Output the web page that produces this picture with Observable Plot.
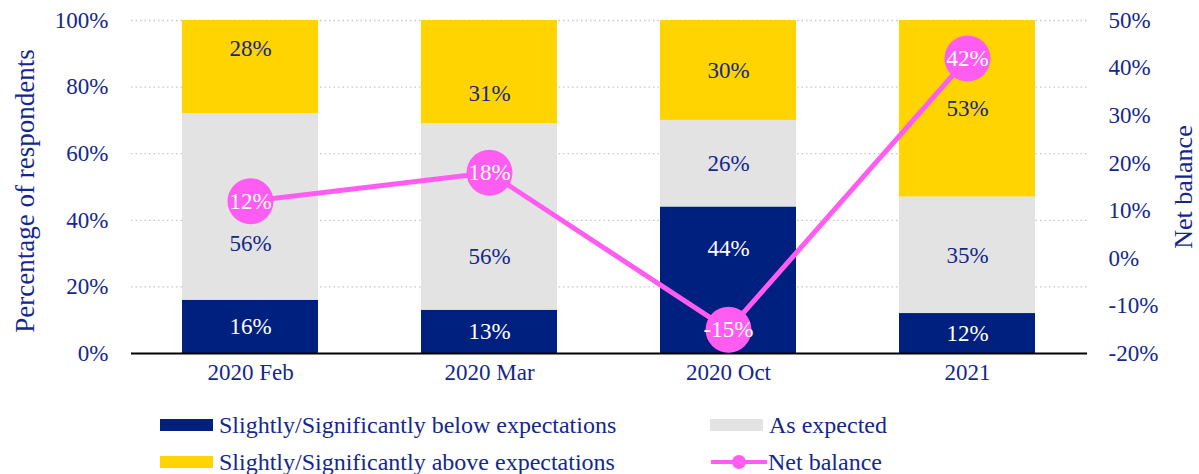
<!DOCTYPE html>
<html>
<head>
<meta charset="utf-8">
<script src="https://cdn.jsdelivr.net/npm/d3@7"></script>
<script src="https://cdn.jsdelivr.net/npm/@observablehq/plot@0.6"></script>
<style>
  body { margin: 0; background: #fff; font-family: "Liberation Serif", "Times New Roman", serif; }
  #wrap { position: relative; width: 1199px; height: 474px; }
  .leg { position: absolute; display: flex; align-items: center; font-size: 24px; color: #14288c; white-space: nowrap; }
  .sw { width: 53px; height: 12px; margin-right: 6px; }
  .ln { position: relative; width: 56px; height: 12px; margin-right: 1px; }
  .ln::before { content: ""; position: absolute; left: 0; right: 0; top: 4px; height: 4px; background: #ff5cf2; }
  .ln::after { content: ""; position: absolute; left: 21px; top: -1px; width: 14px; height: 14px; border-radius: 50%; background: #ff5cf2; }
</style>
</head>
<body>
<div id="wrap"></div>
<script>
const categories = ["2020 Feb", "2020 Mar", "2020 Oct", "2021"];
const series = ["Slightly/Significantly below expectations", "As expected", "Slightly/Significantly above expectations"];
const below = [16, 13, 44, 12];
const asExpected = [56, 56, 26, 35];
const above = [28, 31, 30, 53];
const netBalance = [12, 18, -15, 42];
const leftTicks = [0, 20, 40, 60, 80, 100];
const rightTicks = [-20, -10, 0, 10, 20, 30, 40, 50];
const colors = ["#00207f", "#e3e3e3", "#ffd400"];
const pink = "#ff5cf2";
const navy = "#14288c";
// labels that the reference moved away from the net-balance dots (value units, % of respondents)
const labelMoved = {"2020 Feb|2": 91.5, "2020 Feb|1": 33, "2020 Mar|2": 78, "2020 Mar|1": 29, "2020 Oct|0": 31.5};

const stackData = [];
categories.forEach((c, i) => {
  [below[i], asExpected[i], above[i]].forEach((v, s) => stackData.push({cat: c, s, series: series[s], value: v}));
});
// label positions: midpoint of the segment unless moved
const labelData = stackData.map(d => {
  const base = stackData.filter(e => e.cat === d.cat && e.s < d.s).reduce((a, e) => a + e.value, 0);
  const key = d.cat + "|" + d.s;
  return {...d, ly: key in labelMoved ? labelMoved[key] : base + d.value / 2};
});
const netData = categories.map((c, i) => ({cat: c, net: netBalance[i]}));
// right axis (-20..50) mapped onto left scale (0..100)
const toLeft = v => (v + 20) * 100 / 70;
const fromLeft = v => Math.round(v * 70 / 100 - 20);

const chart = Plot.plot({
  width: 1199,
  height: 400,
  marginLeft: 131,
  marginRight: 112,
  marginTop: 20,
  marginBottom: 47,
  style: {fontFamily: "'Liberation Serif', 'Times New Roman', serif", fontSize: "23px", color: navy, background: "transparent"},
  x: {domain: categories, paddingInner: 0.43, paddingOuter: 0.215, label: null},
  y: {domain: [0, 100], label: null},
  color: {domain: series, range: colors},
  marks: [
    Plot.ruleY([20, 40, 60, 80, 100], {stroke: "#c8c8c8", strokeDasharray: "1.5,3", strokeWidth: 1.3}),
    Plot.barY(stackData, {x: "cat", y: "value", fill: "series", order: series}),
    Plot.text(labelData, {x: "cat", y: "ly", text: d => d.value + "%",
      fill: d => d.s === 0 ? "#ffffff" : navy, fontSize: 23}),
    Plot.ruleY([0], {stroke: "#000", strokeWidth: 2}),
    Plot.line(netData, {x: "cat", y: d => toLeft(d.net), stroke: pink, strokeWidth: 5}),
    Plot.dot(netData, {x: "cat", y: d => toLeft(d.net), r: 23, fill: pink}),
    Plot.text(netData, {x: "cat", y: d => toLeft(d.net), text: d => d.net + "%", fill: "#fff", fontSize: 23}),
    Plot.axisX({tickSize: 0, tickPadding: 10, fontSize: 23, fill: navy, label: null}),
    Plot.axisY({anchor: "left", ticks: leftTicks, tickSize: 0, tickPadding: 23, tickFormat: d => d + "%", fill: navy, label: null}),
    Plot.axisY({anchor: "right", ticks: rightTicks.map(toLeft), tickSize: 0, tickPadding: 21, tickFormat: d => fromLeft(d) + "%", fill: navy, label: null}),
    Plot.text(["Percentage of respondents"], {frameAnchor: "left", textAnchor: "middle", dx: -106, dy: 4, rotate: -90, fill: navy, fontSize: 27}),
    Plot.text(["Net balance"], {frameAnchor: "right", textAnchor: "middle", dx: 96, dy: 0, rotate: -90, fill: navy, fontSize: 26})
  ]
});

const wrap = document.getElementById("wrap");
chart.style.position = "absolute";
chart.style.left = "0";
chart.style.top = "0";
wrap.appendChild(chart);

const legendItems = [
  {label: series[0], kind: "sw", color: colors[0], left: 160, top: 425},
  {label: series[1], kind: "sw", color: colors[1], left: 710, top: 425},
  {label: series[2], kind: "sw", color: colors[2], left: 160, top: 462},
  {label: "Net balance", kind: "ln", color: pink, left: 711, top: 462}
];
legendItems.forEach(it => {
  const d = document.createElement("div");
  d.className = "leg";
  d.style.left = it.left + "px";
  d.style.top = (it.top - 14) + "px";
  d.style.height = "28px";
  const s = document.createElement("div");
  s.className = it.kind;
  if (it.kind === "sw") s.style.background = it.color;
  d.appendChild(s);
  const t = document.createElement("span");
  t.textContent = it.label;
  d.appendChild(t);
  wrap.appendChild(d);
});
</script>
</body>
</html>
